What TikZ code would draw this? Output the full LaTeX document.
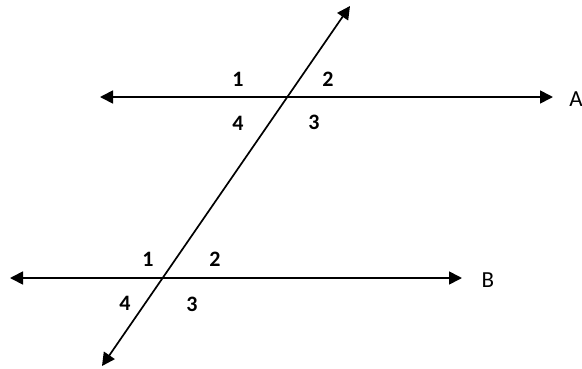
\documentclass[tikz,border=0pt]{standalone}
\usepackage{fontspec}
\setmainfont{Carlito}
\usetikzlibrary{arrows.meta}
\tikzset{
  ray/.style={line width=1.7pt, {Triangle[length=13pt,width=13pt]}-{Triangle[length=13pt,width=13pt]}},
  num/.style={font=\fontsize{22}{22}\selectfont\bfseries, inner sep=0pt},
  linelabel/.style={font=\fontsize{23}{23}\selectfont, inner sep=0pt}
}
\begin{document}
\begin{tikzpicture}[x=1pt, y=-1pt]
\useasboundingbox (0,0) rectangle (582,368);
% line A, line B and the transversal
\coordinate (aL) at (100,97); \coordinate (aR) at (553,97);
\coordinate (bL) at (10,278); \coordinate (bR) at (462,278);
\coordinate (tTop) at (350,6); \coordinate (tBot) at (102,366);
\draw[ray] (aL) -- (aR);
\draw[ray] (bL) -- (bR);
\draw[ray] (tBot) -- (tTop);
\node[linelabel] (labA) at (576,99) {A};
\node[linelabel] (labB) at (488,280) {B};
% angle numbers
\foreach \k/\x/\y in {1/238/79, 2/328/79, 3/314/122, 4/238/123} {
\node[num] (A\k) at (\x,\y) {\k};
}
\foreach \k/\x/\y in {1/148/259, 2/215/259, 3/192/304, 4/125/303} {
\node[num] (B\k) at (\x,\y) {\k};
}
\end{tikzpicture}
\end{document}
